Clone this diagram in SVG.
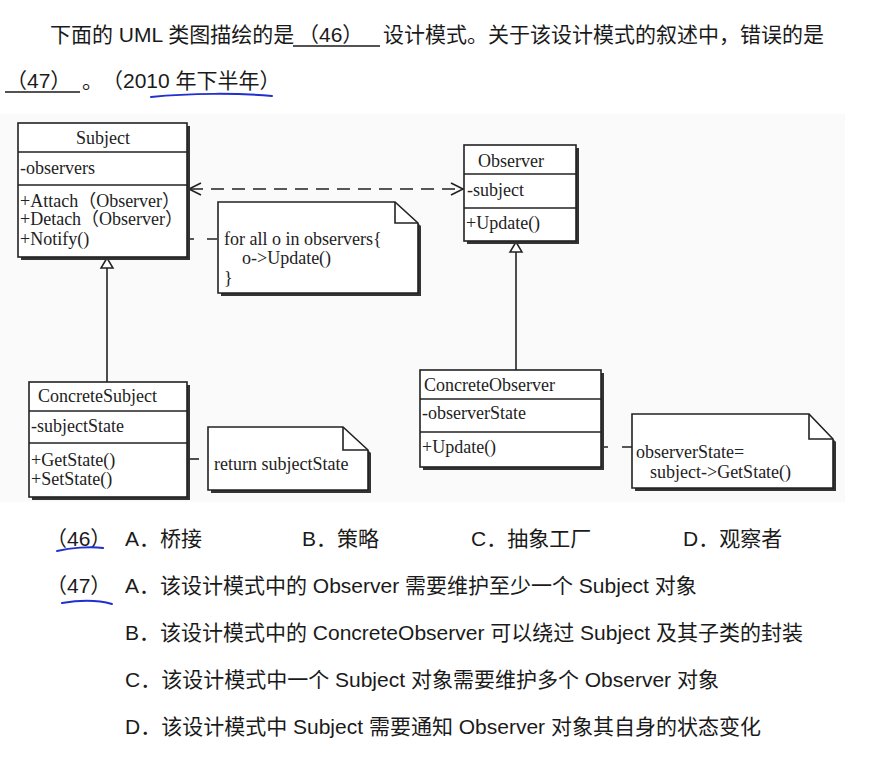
<svg xmlns="http://www.w3.org/2000/svg" width="891" height="759" viewBox="0 0 891 759">
<style>
.cn{font-family:"Liberation Sans","Noto Sans CJK SC",sans-serif;font-size:21px;fill:#1a1a1a}
.u{font-family:"Liberation Serif","Times New Roman","Noto Sans CJK SC",serif;font-size:18px;fill:#222}
.box{fill:#fff;stroke:#222;stroke-width:1.6}
.sh{fill:#333}
.ln{stroke:#222;stroke-width:1.6;fill:none}
.blue{stroke:#1f2fd0;stroke-width:2;fill:none;stroke-linecap:round}
</style>
<rect width="891" height="759" fill="#fff"/>
<rect x="0" y="114" width="845" height="388" fill="#fafafa"/>

<g id="question">
<text class="cn" x="50" y="42">下面的 UML 类图描绘的是</text>
<text class="cn" x="298" y="42">（46）</text>
<line x1="293" y1="46" x2="380" y2="46" stroke="#1a1a1a" stroke-width="1.5"/>
<text class="cn" x="383" y="42">设计模式。关于该设计模式的叙述中，错误的是</text>
<text class="cn" x="6" y="88">（47）</text>
<line x1="5" y1="92" x2="80" y2="92" stroke="#1a1a1a" stroke-width="1.5"/>
<text class="cn" x="82" y="88">。</text>
<text class="cn" x="102" y="88">（2010 年下半年）</text>
<path class="blue" d="M151,97 C190,93 240,93 272,96"/>
</g>

<g id="connectors">
<line class="ln" x1="190" y1="189" x2="462" y2="189" stroke-width="2" stroke-dasharray="13,8"/>
<polyline class="ln" points="201,183 189,189 201,195"/>
<polyline class="ln" points="451,183 463,189 451,195"/>
<line class="ln" x1="107" y1="268" x2="107" y2="382"/>
<polygon points="107,258 101,268 113,268" fill="#fff" stroke="#222" stroke-width="1.5"/>
<line class="ln" x1="516" y1="252" x2="516" y2="370"/>
<polygon points="516,242 510,252 522,252" fill="#fff" stroke="#222" stroke-width="1.5"/>
<circle cx="181" cy="239" r="2.5" fill="none" stroke="#222" stroke-width="1.4"/>
<line class="ln" x1="184" y1="239" x2="218" y2="239" stroke-dasharray="10,13"/>
<circle cx="181" cy="459" r="2.5" fill="none" stroke="#222" stroke-width="1.4"/>
<line class="ln" x1="184" y1="459" x2="199" y2="459"/>
<circle cx="595" cy="447" r="2.5" fill="none" stroke="#222" stroke-width="1.4"/>
<line class="ln" x1="598" y1="447" x2="632" y2="447" stroke-dasharray="10,14"/>
</g>

<g id="subject">
<rect class="sh" x="21" y="126" width="169" height="134"/>
<rect class="box" x="18" y="123" width="169" height="134"/>
<line class="ln" x1="18" y1="152" x2="187" y2="152"/>
<line class="ln" x1="18" y1="185" x2="187" y2="185"/>
<text class="u" x="103" y="144" text-anchor="middle">Subject</text>
<text class="u" x="20" y="174">-observers</text>
<text class="u" x="20" y="207">+Attach（Observer）</text>
<text class="u" x="20" y="225">+Detach（Observer）</text>
<text class="u" x="20" y="245">+Notify()</text>
</g>

<g id="observer">
<rect class="sh" x="467" y="148" width="112" height="96"/>
<rect class="box" x="464" y="145" width="112" height="96"/>
<line class="ln" x1="464" y1="174" x2="576" y2="174"/>
<line class="ln" x1="464" y1="208" x2="576" y2="208"/>
<text class="u" x="478" y="167">Observer</text>
<text class="u" x="467" y="196">-subject</text>
<text class="u" x="466" y="229">+Update()</text>
</g>

<g id="concrete-subject">
<rect class="sh" x="32" y="385" width="158" height="115"/>
<rect class="box" x="29" y="382" width="158" height="115"/>
<line class="ln" x1="29" y1="411" x2="187" y2="411"/>
<line class="ln" x1="29" y1="443" x2="187" y2="443"/>
<text class="u" x="38" y="402">ConcreteSubject</text>
<text class="u" x="31" y="432">-subjectState</text>
<text class="u" x="31" y="466">+GetState()</text>
<text class="u" x="31" y="485">+SetState()</text>
</g>

<g id="concrete-observer">
<rect class="sh" x="423" y="373" width="181" height="97"/>
<rect class="box" x="420" y="370" width="181" height="97"/>
<line class="ln" x1="420" y1="399" x2="601" y2="399"/>
<line class="ln" x1="420" y1="432" x2="601" y2="432"/>
<text class="u" x="424" y="391">ConcreteObserver</text>
<text class="u" x="422" y="419">-observerState</text>
<text class="u" x="422" y="453">+Update()</text>
</g>

<g id="note-notify">
<polygon class="sh" points="221,205 398,205 421,226 421,296 221,296"/>
<polygon class="box" points="218,202 395,202 418,223 418,293 218,293"/>
<polyline class="ln" points="395,202 395,223 418,223"/>
<text class="u" x="224" y="245">for all o in observers{</text>
<text class="u" x="242" y="264">o-&gt;Update()</text>
<text class="u" x="224" y="284">}</text>
</g>

<g id="note-getstate">
<polygon class="sh" points="211,430 346,430 371,453 371,493 211,493"/>
<polygon class="box" points="208,427 343,427 368,450 368,490 208,490"/>
<polyline class="ln" points="343,427 343,450 368,450"/>
<text class="u" x="214" y="470">return subjectState</text>
</g>

<g id="note-update">
<polygon class="sh" points="635,417 812,417 836,442 836,491 635,491"/>
<polygon class="box" points="632,414 809,414 833,439 833,488 632,488"/>
<polyline class="ln" points="809,414 809,439 833,439"/>
<text class="u" x="636" y="458">observerState=</text>
<text class="u" x="650" y="478">subject-&gt;GetState()</text>
</g>

<g id="options">
<text class="cn" x="46" y="546">（46）</text>
<text class="cn" x="125" y="546">A．桥接</text>
<text class="cn" x="302" y="546">B．策略</text>
<text class="cn" x="471" y="546">C．抽象工厂</text>
<text class="cn" x="683" y="546">D．观察者</text>
<path class="blue" d="M57,551 C70,548 90,546 103,548"/>
<text class="cn" x="46" y="593">（47）</text>
<text class="cn" x="125" y="593">A．该设计模式中的 Observer 需要维护至少一个 Subject 对象</text>
<path class="blue" d="M62,603 C80,600 98,600 112,604"/>
<text class="cn" x="125" y="640">B．该设计模式中的 ConcreteObserver 可以绕过 Subject 及其子类的封装</text>
<text class="cn" x="125" y="687">C．该设计模式中一个 Subject 对象需要维护多个 Observer 对象</text>
<text class="cn" x="125" y="734">D．该设计模式中 Subject 需要通知 Observer 对象其自身的状态变化</text>
</g>
</svg>
